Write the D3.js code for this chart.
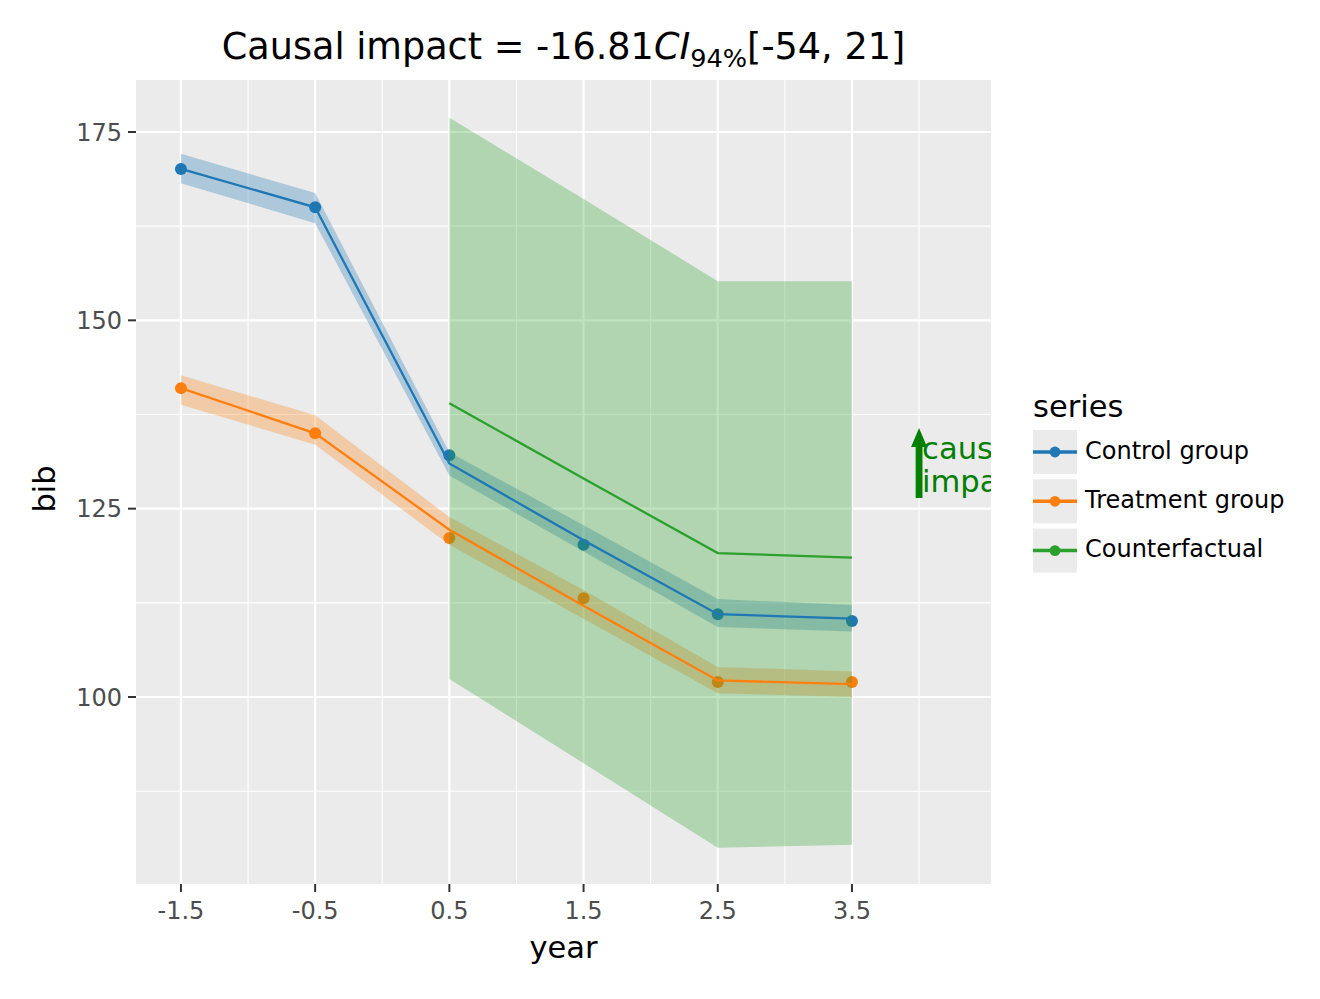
<!DOCTYPE html>
<html>
<head>
<meta charset="utf-8">
<script src="https://cdn.jsdelivr.net/npm/d3@7"></script>
<style>
  html, body { margin: 0; padding: 0; background: #fff; }
  svg { display: block; font-family: "DejaVu Sans", sans-serif; }
</style>
</head>
<body>
<svg id="chart" width="1320" height="999"></svg>
<script>
// ---------------- data ----------------
const years = [-1.5, -0.5, 0.5, 1.5, 2.5, 3.5];

const controlObs   = [170.1, 165.0, 132.1, 120.2, 111.0, 110.1];
const controlFit   = [170.1, 165.0, 131.0, 120.8, 111.0, 110.4];
const controlLower = [168.2, 162.9, 129.4, 119.3, 109.3, 108.7];
const controlUpper = [172.1, 166.9, 132.5, 122.8, 113.0, 112.2];

const treatmentObs   = [141.0, 135.0, 121.1, 113.1, 102.0, 102.0];
const treatmentFit   = [141.0, 135.0, 122.2, 112.1, 102.2, 101.7];
const treatmentLower = [138.8, 133.5, 120.2, 110.4, 100.5, 100.0];
const treatmentUpper = [142.7, 137.4, 123.9, 114.2, 104.0, 103.4];

const cfYears = [0.5, 1.5, 2.5, 3.5];
const cfFit   = [139.0, 129.0, 119.1, 118.5];
const cfLower = [102.4, 91.2, 80.0, 80.4];
const cfUpper = [176.9, 166.1, 155.2, 155.2];

const xTicks = [-1.5, -0.5, 0.5, 1.5, 2.5, 3.5];
const xTickLabels = ["-1.5", "-0.5", "0.5", "1.5", "2.5", "3.5"];
const xMinor = [-1, 0, 1, 2, 3, 4];
const yTicks = [100, 125, 150, 175];
const yMinor = [87.5, 112.5, 137.5, 162.5];

const seriesNames = ["Control group", "Treatment group", "Counterfactual"];
const seriesColors = ["#1f77b4", "#ff7f0e", "#2ca02c"];

const arrowX = 4.0, arrowFrom = 126.4, arrowTo = 135.7;
const annotationLines = ["causal", "impact"];

const titleMain = "Causal impact = -16.81";
const titleCI = "CI";
const titleSub = "94%";
const titleEnd = "[-54, 21]";

// ---------------- layout ----------------
const svg = d3.select("#chart");
const P = {left: 136, right: 991, top: 80, bottom: 884};
const x = d3.scaleLinear().domain([-1.835, 4.536]).range([P.left, P.right]);
const y = d3.scaleLinear().domain([75.18, 181.9]).range([P.bottom, P.top]);

svg.append("defs").append("clipPath").attr("id", "panelClip")
  .append("rect").attr("x", P.left).attr("y", P.top)
  .attr("width", P.right - P.left).attr("height", P.bottom - P.top);

svg.append("rect").attr("x", P.left).attr("y", P.top)
  .attr("width", P.right - P.left).attr("height", P.bottom - P.top)
  .attr("fill", "#ebebeb");

const grid = svg.append("g");
xMinor.forEach(v => grid.append("line").attr("x1", x(v)).attr("x2", x(v))
  .attr("y1", P.top).attr("y2", P.bottom).attr("stroke", "#fff").attr("stroke-width", 1.1));
yMinor.forEach(v => grid.append("line").attr("y1", y(v)).attr("y2", y(v))
  .attr("x1", P.left).attr("x2", P.right).attr("stroke", "#fff").attr("stroke-width", 1.1));
xTicks.forEach(v => grid.append("line").attr("x1", x(v)).attr("x2", x(v))
  .attr("y1", P.top).attr("y2", P.bottom).attr("stroke", "#fff").attr("stroke-width", 2.2));
yTicks.forEach(v => grid.append("line").attr("y1", y(v)).attr("y2", y(v))
  .attr("x1", P.left).attr("x2", P.right).attr("stroke", "#fff").attr("stroke-width", 2.2));

const plot = svg.append("g").attr("clip-path", "url(#panelClip)");

// points (drawn beneath ribbons)
function points(vals, color) {
  plot.append("g").selectAll("circle").data(vals).join("circle")
    .attr("cx", (d, i) => x(years[i])).attr("cy", d => y(d))
    .attr("r", 6).attr("fill", color);
}
points(controlObs, seriesColors[0]);
points(treatmentObs, seriesColors[1]);

// ribbons
function ribbon(xs, lo, hi, color) {
  const area = d3.area().x((d, i) => x(xs[i])).y0((d, i) => y(lo[i])).y1((d, i) => y(hi[i]));
  plot.append("path").datum(xs).attr("d", area).attr("fill", color).attr("fill-opacity", 0.3);
}
ribbon(years, controlLower, controlUpper, seriesColors[0]);
ribbon(years, treatmentLower, treatmentUpper, seriesColors[1]);
ribbon(cfYears, cfLower, cfUpper, seriesColors[2]);

// lines
function line(xs, vals, color) {
  const l = d3.line().x((d, i) => x(xs[i])).y(d => y(d));
  plot.append("path").datum(vals).attr("d", l).attr("fill", "none")
    .attr("stroke", color).attr("stroke-width", 2.3);
}
line(years, controlFit, seriesColors[0]);
line(years, treatmentFit, seriesColors[1]);
line(cfYears, cfFit, seriesColors[2]);

// annotation arrow + text
const ax = x(arrowX), ay0 = y(arrowFrom), ay1 = y(arrowTo);
const headLen = 19, headHalf = 8, shaftHalf = 3.4;
plot.append("path")
  .attr("d", `M${ax - shaftHalf},${ay0} L${ax - shaftHalf},${ay1 + headLen} L${ax - headHalf},${ay1 + headLen}
              L${ax},${ay1} L${ax + headHalf},${ay1 + headLen} L${ax + shaftHalf},${ay1 + headLen}
              L${ax + shaftHalf},${ay0} Z`)
  .attr("fill", "#008000");
const ann = plot.append("text").attr("x", ax + 3).attr("y", 459)
  .attr("fill", "#008000").attr("font-size", 30.6);
annotationLines.forEach((t, i) => ann.append("tspan").attr("x", ax + 3)
  .attr("dy", i === 0 ? 0 : 33).text(t));

// axes
const axes = svg.append("g");
xTicks.forEach((v, i) => {
  axes.append("line").attr("x1", x(v)).attr("x2", x(v)).attr("y1", P.bottom).attr("y2", P.bottom + 8)
    .attr("stroke", "#333").attr("stroke-width", 2);
  axes.append("text").attr("x", x(v)).attr("y", 919).attr("text-anchor", "middle")
    .attr("font-size", 24).attr("fill", "#4d4d4d").text(xTickLabels[i]);
});
yTicks.forEach(v => {
  axes.append("line").attr("x1", P.left - 8).attr("x2", P.left).attr("y1", y(v)).attr("y2", y(v))
    .attr("stroke", "#333").attr("stroke-width", 2);
  axes.append("text").attr("x", P.left - 14).attr("y", y(v)).attr("dy", "0.36em")
    .attr("text-anchor", "end").attr("font-size", 24).attr("fill", "#4d4d4d").text(v);
});
axes.append("text").attr("x", (P.left + P.right) / 2).attr("y", 958).attr("text-anchor", "middle")
  .attr("font-size", 30.5).attr("fill", "#000").text("year");
axes.append("text").attr("transform", `translate(55,${(P.top + P.bottom) / 2 + 7}) rotate(-90)`)
  .attr("text-anchor", "middle").attr("font-size", 30.5).attr("fill", "#000").text("bib");

// title
const title = svg.append("text").attr("x", (P.left + P.right) / 2).attr("y", 59)
  .attr("text-anchor", "middle").attr("font-size", 36.6).attr("fill", "#000");
title.append("tspan").text(titleMain);
title.append("tspan").attr("font-style", "italic").text(titleCI);
title.append("tspan").attr("font-size", 25.6).attr("dy", 8).text(titleSub);
title.append("tspan").attr("dy", -8).text(titleEnd);

// legend
const lg = svg.append("g");
lg.append("text").attr("x", 1033).attr("y", 417).attr("font-size", 30.5).attr("fill", "#000").text("series");
seriesNames.forEach((name, i) => {
  const ky = 430 + i * 49.3;
  lg.append("rect").attr("x", 1033).attr("y", ky).attr("width", 44).attr("height", 44).attr("fill", "#ebebeb");
  lg.append("line").attr("x1", 1033).attr("x2", 1077).attr("y1", ky + 22).attr("y2", ky + 22)
    .attr("stroke", seriesColors[i]).attr("stroke-width", 3.5);
  lg.append("circle").attr("cx", 1055).attr("cy", ky + 22).attr("r", 5.4).attr("fill", seriesColors[i]);
  lg.append("text").attr("x", 1085).attr("y", ky + 20).attr("dy", "0.36em")
    .attr("font-size", 24).attr("fill", "#000").text(name);
});
</script>
</body>
</html>
